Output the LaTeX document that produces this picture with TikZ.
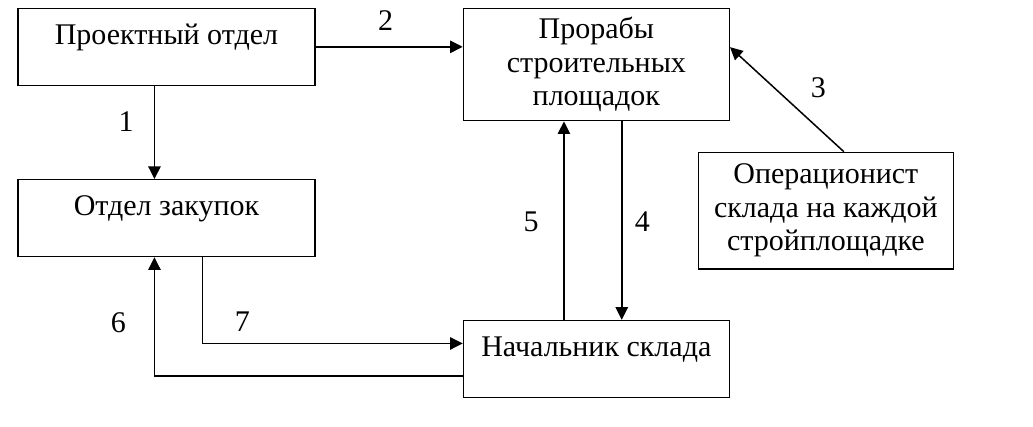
\documentclass[tikz,border=0pt]{standalone}
\usepackage{fontspec}
\setmainfont{Liberation Serif}
\usetikzlibrary{positioning, arrows.meta}

\begin{document}
\begin{tikzpicture}[
    x=0.5pt, y=-0.5pt,
    >={Triangle[length=6.3pt, width=6.2pt]},
    node distance=46.5pt,
    block/.style={
        rectangle,
        draw,
        line width=0.65pt,
        inner xsep=0pt,
        align=center,
        font=\fontsize{15}{16.75}\selectfont
    },
    oneline/.style={
        block,
        inner ysep=0pt,
        text height=18pt,
        text depth=20.5pt
    },
    num/.style={font=\fontsize{15}{16.75}\selectfont, inner sep=0pt},
    arrow/.style={->, line width=0.75pt}
]

\useasboundingbox (0,0) rectangle (1033,427);

% Left column
\node[oneline, minimum width=148.5pt, anchor=north west] (proj) at (17.3,7.7) {Проектный отдел};
\node[oneline, minimum width=148.5pt, below=of proj] (zak) {Отдел закупок};

% Middle column
\node[block, minimum width=133pt, minimum height=56.2pt, anchor=north west] (prorab) at (462.7,7.7) {Прорабы\\строительных\\площадок};
\node[oneline, minimum width=133pt, below=99.2pt of prorab] (nach) {Начальник склада};

% Right box
\node[block, minimum width=127.5pt, minimum height=58.3pt, anchor=north west] (oper) at (697.7,151.7) {Операционист\\склада на каждой\\стройплощадке};

% Arrows
\draw[arrow] ([xshift=-6pt]proj.south) -- ([xshift=-6pt]zak.north);
\draw[arrow] (proj.east) -- (proj.east -| prorab.west);
\draw[arrow] ([xshift=9pt]oper.north) -- ([yshift=8.7pt]prorab.east);
\draw[arrow] ([xshift=12.7pt]prorab.south) -- ([xshift=12.7pt]nach.north);
\draw[arrow] ([xshift=-16.2pt]nach.north) -- ([xshift=-16.2pt]prorab.south);
\draw[arrow] ([yshift=-8.6pt]nach.west) -| ([xshift=-6pt]zak.south);
\draw[arrow] ([xshift=18pt]zak.south) |- ([yshift=7.75pt]nach.west);

% Flow numbers
\node[num] (n1) at (126,122) {1};
\node[num] (n2) at (385.7,20.8) {2};
\node[num] (n3) at (818.3,87.5) {3};
\node[num] (n4) at (642.3,222) {4};
\node[num] (n5) at (531,222) {5};
\node[num] (n6) at (118.3,322.5) {6};
\node[num] (n7) at (242.3,322) {7};

\end{tikzpicture}
\end{document}
